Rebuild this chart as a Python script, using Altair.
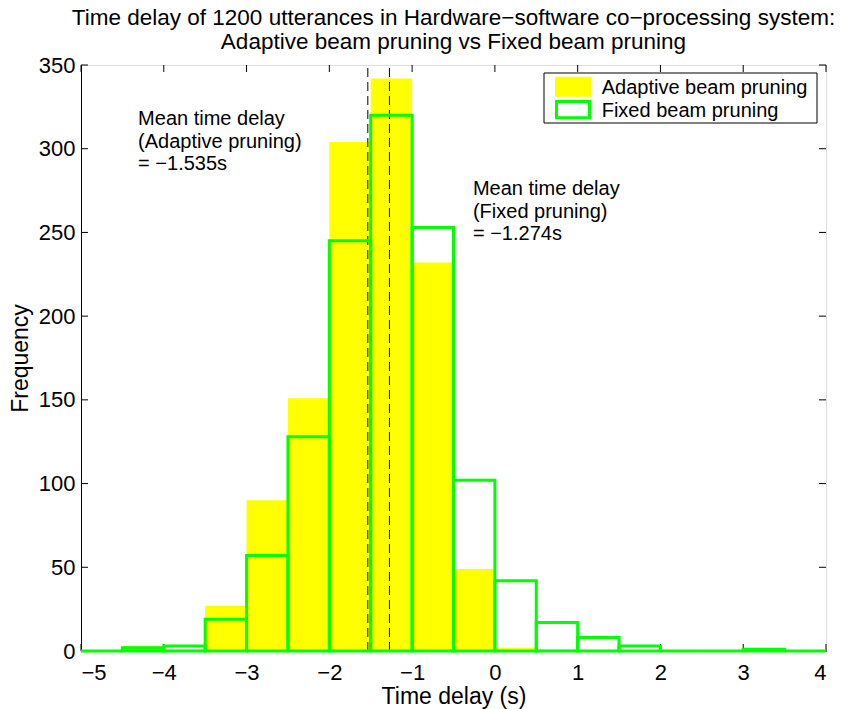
import altair as alt
import pandas as pd

FONT = "Liberation Sans"

# ---- data ----
bin_start = [-5.0, -4.5, -4.0, -3.5, -3.0, -2.5, -2.0, -1.5, -1.0, -0.5, 0.0, 0.5, 1.0, 1.5, 2.0, 2.5, 3.0, 3.5]
bin_end = [-4.5, -4.0, -3.5, -3.0, -2.5, -2.0, -1.5, -1.0, -0.5, 0.0, 0.5, 1.0, 1.5, 2.0, 2.5, 3.0, 3.5, 4.0]
adaptive_counts = [0, 3, 1, 27, 90, 151, 304, 342, 232, 49, 2, 1, 0, 0, 0, 0, 0, 0]
fixed_counts = [0, 2, 3, 19, 57, 128, 245, 320, 253, 102, 42, 17, 8, 3, 0, 0, 1, 0]

mean_labels = ["Adaptive pruning", "Fixed pruning"]
mean_values = [-1.535, -1.274]
annot_x = [-4.31, -0.265]
annot_y = [323.5, 281.7]
annot_text = [
    "Mean time delay\n(Adaptive pruning)\n= \u22121.535s",
    "Mean time delay\n(Fixed pruning)\n= \u22121.274s",
]

series_names = ["Adaptive beam pruning", "Fixed beam pruning"]
x_ticks = [-5, -4, -3, -2, -1, 0, 1, 2, 3, 4]
y_ticks = [0, 50, 100, 150, 200, 250, 300, 350]

title_lines = [
    "Time delay of 1200 utterances in Hardware\u2212software co\u2212processing system:",
    "Adaptive beam pruning vs Fixed beam pruning",
]

W, H = 745, 586
YELLOW = "#ffff00"
GREEN = "#00ff00"

df_a = pd.DataFrame({"start": bin_start, "end": bin_end, "count": adaptive_counts})
df_f = pd.DataFrame({"start": bin_start, "end": bin_end, "count": fixed_counts})
df_mean = pd.DataFrame({"label": mean_labels, "mean": mean_values})
df_annot = pd.DataFrame({"x": annot_x, "y": annot_y, "text": annot_text})
df_xt = pd.DataFrame({"t": x_ticks})
df_yt = pd.DataFrame({"t": y_ticks})
one = pd.DataFrame({"a": [0]})

xscale = alt.Scale(domain=[-5, 4], nice=False, zero=False)
yscale = alt.Scale(domain=[0, 350], nice=False)

xaxis = alt.Axis(values=x_ticks, ticks=False, tickSize=0, grid=False, labelFontSize=22,
                 labelFont=FONT, labelColor="black", labelPadding=11, title="Time delay (s)",
                 titleFont=FONT, titleFontSize=23, titleFontWeight="normal", titleColor="black",
                 titlePadding=2, domainColor="black", format="d")
yaxis = alt.Axis(values=y_ticks, ticks=False, tickSize=0, grid=False, labelFontSize=22,
                 labelFont=FONT, labelColor="black", labelPadding=6, title="Frequency",
                 titleFont=FONT, titleFontSize=23, titleFontWeight="normal", titleColor="black",
                 titlePadding=6, domainColor="black", format="d")

yellow = alt.Chart(df_a).mark_bar(fill=YELLOW, strokeWidth=0).encode(
    x=alt.X("start:Q", scale=xscale, axis=xaxis),
    x2="end:Q",
    y=alt.Y("count:Q", scale=yscale, axis=yaxis),
    y2=alt.datum(0),
)

dashed = alt.Chart(df_mean).mark_rule(color="black", strokeWidth=1, strokeDash=[9, 5]).encode(
    x=alt.X("mean:Q", scale=xscale),
    y=alt.datum(0, scale=yscale),
    y2=alt.datum(350),
)

tick_len = 7
bottom_ticks = alt.Chart(df_xt).mark_rule(color="black", strokeWidth=1).encode(
    x=alt.X("t:Q", scale=xscale), y=alt.value(H), y2=alt.value(H - tick_len))
top_ticks = alt.Chart(df_xt).mark_rule(color="black", strokeWidth=1).encode(
    x=alt.X("t:Q", scale=xscale), y=alt.value(0), y2=alt.value(tick_len))
left_ticks = alt.Chart(df_yt).mark_rule(color="black", strokeWidth=1).encode(
    y=alt.Y("t:Q", scale=yscale), x=alt.value(0), x2=alt.value(tick_len))
right_ticks = alt.Chart(df_yt).mark_rule(color="black", strokeWidth=1).encode(
    y=alt.Y("t:Q", scale=yscale), x=alt.value(W), x2=alt.value(W - tick_len))

green = alt.Chart(df_f).mark_bar(filled=False, stroke=GREEN, strokeWidth=3, fillOpacity=0).encode(
    x=alt.X("start:Q", scale=xscale),
    x2="end:Q",
    y=alt.Y("count:Q", scale=yscale),
    y2=alt.datum(0),
)

annot = alt.Chart(df_annot).mark_text(
    align="left", baseline="top", font=FONT, fontSize=20, lineBreak="\n", lineHeight=22.5, color="black"
).encode(x=alt.X("x:Q", scale=xscale), y=alt.Y("y:Q", scale=yscale), text="text:N")

# ---- legend (drawn by hand, MATLAB style) ----
leg_box = alt.Chart(one).mark_rect(fill="white", stroke="black", strokeWidth=1).encode(
    x=alt.value(463), x2=alt.value(736), y=alt.value(8), y2=alt.value(58))
leg_yellow = alt.Chart(one).mark_rect(fill=YELLOW).encode(
    x=alt.value(474), x2=alt.value(510), y=alt.value(11.7), y2=alt.value(31.7))
leg_green = alt.Chart(one).mark_rect(fill="white", stroke=GREEN, strokeWidth=3).encode(
    x=alt.value(475.5), x2=alt.value(508.5), y=alt.value(36.5), y2=alt.value(52.8))
leg_text = []
for i, name in enumerate(series_names):
    leg_text.append(
        alt.Chart(pd.DataFrame({"name": [name]})).mark_text(
            align="left", baseline="alphabetic", font=FONT, fontSize=20, color="black"
        ).encode(x=alt.value(520.7), y=alt.value(28.9 + 22.8 * i), text="name:N")
    )

chart = alt.layer(
    yellow, dashed, bottom_ticks, top_ticks, left_ticks, right_ticks, green, annot,
    leg_box, leg_yellow, leg_green, *leg_text
).properties(
    width=W, height=H,
    title=alt.TitleParams(text=title_lines, font=FONT, fontSize=22.5, fontWeight="normal",
                          color="black", anchor="middle", offset=1, lineHeight=24),
    autosize=alt.AutoSizeParams(type="none"),
    padding={"left": 81, "top": 65, "right": 24, "bottom": 58},
).configure_view(stroke="black", strokeWidth=1).configure(background="white")

chart.save("out.html", embed_options={"renderer": "svg", "actions": False})
